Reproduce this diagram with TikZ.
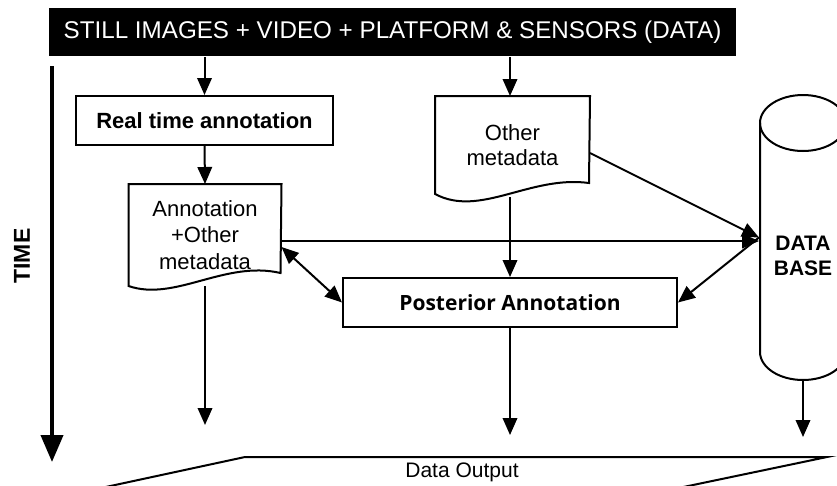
\documentclass[tikz,border=0pt]{standalone}
\usepackage{fontspec}
\setmainfont{Liberation Sans}
\newfontfamily\osfont{Open Sans}
\usetikzlibrary{arrows.meta,calc}
\tikzset{
  arr/.style={-{Triangle[length=17pt,width=14.5pt]}},
  darr/.style={{Triangle[length=17pt,width=14.5pt]}-{Triangle[length=17pt,width=14.5pt]}},
  box/.style={draw, rectangle, inner sep=0pt},
  plain/.style={font=\fontsize{22}{26.5}\selectfont, align=center, inner sep=0pt},
  boldtxt/.style={font=\bfseries\fontsize{22}{26}\selectfont, align=center},
}
\begin{document}
\begin{tikzpicture}[x=1pt,y=-1pt,line width=2pt]
\clip (0,0) rectangle (837,485);
\fill[white] (0,0) rectangle (837,485);

% header
\node[fill=black, text=white, minimum width=687pt, minimum height=48pt, inner sep=0pt,
      font=\fontsize{24.2}{28}\selectfont] (hdr) at (392.5,32)
  {STILL IMAGES + VIDEO + PLATFORM \& SENSORS (DATA)};

% real time annotation
\node[box, boldtxt, minimum width=257pt, minimum height=49pt] (rta) at (204.5,120.5) {Real time annotation};

% annotation document
\node[plain, minimum width=151pt, minimum height=100pt] (ann) at (205,235) {Annotation\\+Other\\metadata};
\draw (ann.north west) -- (ann.north east) -- (280.5,273)
  .. controls (225,260) and (175,302) .. (ann.south west) -- cycle;

% other metadata document
\node[plain, font=\fontsize{22}{25}\selectfont, minimum width=153pt, minimum height=96pt] (oth) at (512.5,145) {Other\\metadata};
\draw (oth.north west) -- (oth.north east) -- (589,183)
  .. controls (530,175) and (480,218) .. (oth.south west) -- cycle;

% posterior annotation
\node[box, font=\osfont\bfseries\fontsize{21}{24}\selectfont, minimum width=334pt, minimum height=49pt] (pa) at (510,302.5) {Posterior Annotation};

% database cylinder
\node[minimum width=86pt, minimum height=285pt, inner sep=0pt] (db) at (803,237.5) {};
\draw (803,123) ellipse[x radius=43pt, y radius=28pt];
\draw (846,123) -- (846,352) arc[start angle=0, end angle=-180, x radius=43pt, y radius=28pt] -- (760,123);
\node[font=\bfseries\fontsize{21}{25}\selectfont, align=center] (dbl) at (803,255.5) {DATA\\BASE};

% output
\draw (82.5,492) -- (245,457) -- (827,457) -- (659.5,492);
\node[font=\fontsize{21}{24}\selectfont] (out) at (462,472) {Data Output};

% time
\node[rotate=90, font=\bfseries\fontsize{23}{26}\selectfont] (time) at (22,256) {TIME};
\coordinate (t1) at (52,66);
\coordinate (t2) at (52,462);
\draw[line width=4pt, -{Triangle[length=27pt,width=22pt]}] (t1) -- (t2);

% connectors
\coordinate (annR) at ([yshift=-6pt]ann.east);
\coordinate (annD) at ([yshift=-12pt]ann.east);
\coordinate (othR) at ([yshift=-8pt]oth.east);
\coordinate (c1) at (205,425);
\coordinate (c2) at (510,435);
\coordinate (c3) at (803,437);

\draw[arr] (rta.north |- hdr.south) -- (rta.north);
\draw[arr] (pa.north |- hdr.south) -- (pa.north |- oth.north);
\draw[arr] (rta.south) -- (ann.north);
\draw[arr] (annR) -- (annR -| db.west);
\draw[arr] (othR) -- (db.west);
\draw[arr] (db.west) -- (pa.east);
\draw[darr] (annD) -- (pa.west);
\draw[arr] ([yshift=-3pt]pa.north |- oth.south) -- (pa.north);
\draw[arr] (ann.south) -- (c1);
\draw[arr] (pa.south) -- (c2);
\draw[arr] (db.south) -- (c3);
\end{tikzpicture}
\end{document}
